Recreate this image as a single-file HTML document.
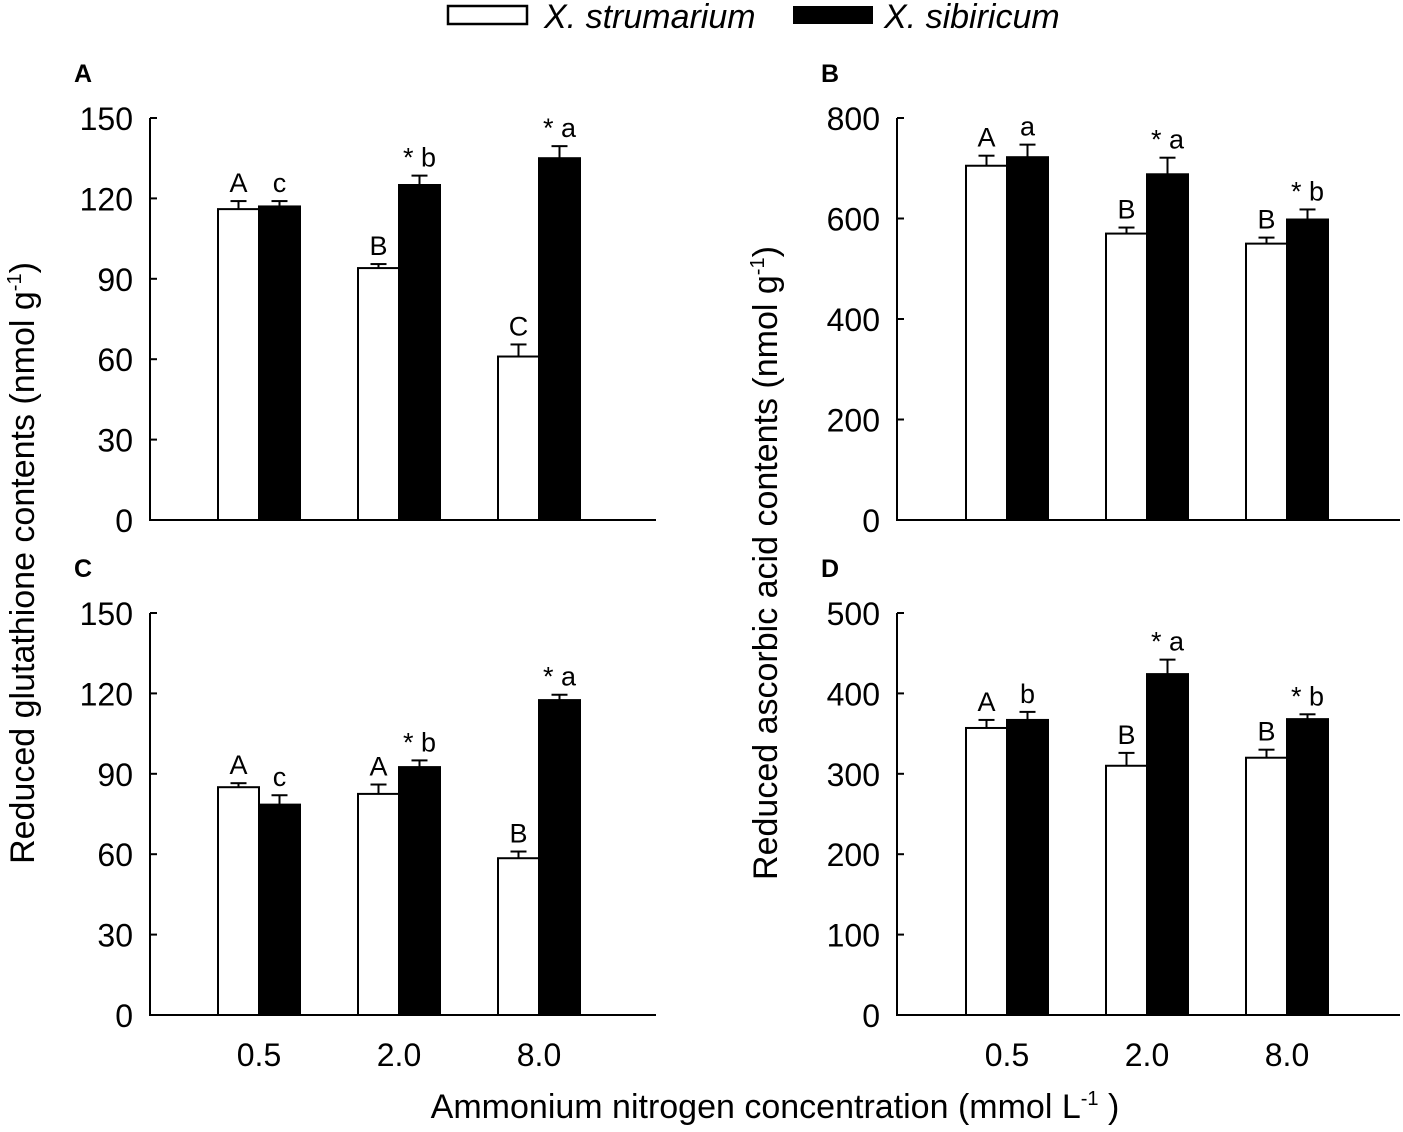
<!DOCTYPE html>
<html><head><meta charset="utf-8"><style>
html,body{margin:0;padding:0;background:#fff}
svg text{font-family:"Liberation Sans",Arial,sans-serif;fill:#000}
</style></head><body>
<svg id="chart" width="1403" height="1127" viewBox="0 0 1403 1127" xmlns="http://www.w3.org/2000/svg">
<g>
<rect x="448" y="6" width="79" height="18" fill="#fff" stroke="#000" stroke-width="2.5"/>
<text x="544" y="28" font-size="34" font-style="italic">X. strumarium</text>
<rect x="793" y="6" width="80" height="18" fill="#000"/>
<text x="884" y="28" font-size="34" font-style="italic">X. sibiricum</text>
</g>
<text x="34" y="563" font-size="34" transform="rotate(-90 34 563)" text-anchor="middle">Reduced glutathione contents (nmol g<tspan dy="-13" font-size="20">-1</tspan><tspan dy="13">)</tspan></text>
<text x="777" y="563" font-size="34" transform="rotate(-90 777 563)" text-anchor="middle">Reduced ascorbic acid contents (nmol g<tspan dy="-13" font-size="20">-1</tspan><tspan dy="13">)</tspan></text>
<text x="775" y="1118" font-size="34" text-anchor="middle">Ammonium nitrogen concentration (mmol L<tspan dy="-13" font-size="20">-1</tspan><tspan dy="13"> )</tspan></text>
<g id="plots"></g>
</svg>
<script>
const categories = ["0.5","2.0","8.0"];
const aWhite=[116,94,61], aWhiteErr=[3,1.5,4.5], aBlack=[117,125,135], aBlackErr=[2,3.5,4.5];
const bWhite=[705,570,550], bWhiteErr=[20,12,12], bBlack=[722,688,598], bBlackErr=[25,33,20];
const cWhite=[85,82.5,58.5], cWhiteErr=[1.5,3.5,2.5], cBlack=[78.5,92.5,117.5], cBlackErr=[3.5,2.5,2];
const dWhite=[357,310,320], dWhiteErr=[10,16,10], dBlack=[367,424,368], dBlackErr=[10,18,6];
const aLabW=["A","B","C"], aLabB=["c","* b","* a"];
const bLabW=["A","B","B"], bLabB=["a","* a","* b"];
const cLabW=["A","A","B"], cLabB=["c","* b","* a"];
const dLabW=["A","B","B"], dLabB=["b","* a","* b"];
const ticksGSH=[0,30,60,90,120,150], ticksB=[0,200,400,600,800], ticksD=[0,100,200,300,400,500];

const NS="http://www.w3.org/2000/svg";
const root=document.getElementById('plots');
function mk(tag,attrs,parent){const e=document.createElementNS(NS,tag);for(const k in attrs)e.setAttribute(k,attrs[k]);(parent||root).appendChild(e);return e;}

function panel(key,letter,x0,x1,yTop,yBot,max,ticks,white,wErr,black,bErr,labW,labB,centers,showX){
  const g=mk('g',{});
  
  
  const y=v=>yBot-(v/max)*(yBot-yTop);
  const t=mk('text',{x:x0-76,y:yTop-36,'font-size':25,'font-weight':'bold'},g);t.textContent=letter;
  
  
  const bw=41;
  for(let i=0;i<categories.length;i++){
    const c=centers[i];
    [[white,wErr,labW,'#fff',c-bw,'strumarium'],[black,bErr,labB,'#000',c,'sibiricum']].forEach(([vals,errs,labs,fill,bx,nm])=>{
      const top=y(vals[i]), et=y(vals[i]+errs[i]);
      const cx=bx+bw/2;
      const el=mk('line',{x1:cx,x2:cx,y1:top,y2:et,stroke:'#000','stroke-width':2},g);
      
      
      const cap=mk('line',{x1:cx-8,x2:cx+8,y1:et,y2:et,stroke:'#000','stroke-width':2},g);
      
      
      const r=mk('rect',{x:bx,y:top,width:bw,height:yBot-top,fill:fill,stroke:'#000','stroke-width':2},g);
      
      
      const lt=mk('text',{x:cx,y:et-9,'font-size':27,'text-anchor':'middle'},g);
      lt.textContent=labs[i];
      
      
    });
    if(showX){
      const xt=mk('text',{x:c,y:yBot+51,'font-size':32,'text-anchor':'middle'},g);
      xt.textContent=categories[i];
      
      
    }
  }
  const ax=mk('path',{d:`M${x0},${yTop} V${yBot} H${x1}`,fill:'none',stroke:'#000','stroke-width':2},g);
  
  
  ticks.forEach(v=>{
    const tk=mk('line',{x1:x0,x2:x0+7,y1:y(v),y2:y(v),stroke:'#000','stroke-width':2},g);
    
    
    const tl=mk('text',{x:x0-17,y:y(v)+12,'font-size':32,'text-anchor':'end'},g);
    tl.textContent=v;
    
    
  });
}
panel('a','A',150,656,118,520,150,ticksGSH,aWhite,aWhiteErr,aBlack,aBlackErr,aLabW,aLabB,[259,399,539],false);
panel('b','B',897,1400,118,520,800,ticksB,bWhite,bWhiteErr,bBlack,bBlackErr,bLabW,bLabB,[1007,1147,1287],false);
panel('c','C',150,656,613,1015,150,ticksGSH,cWhite,cWhiteErr,cBlack,cBlackErr,cLabW,cLabB,[259,399,539],true);
panel('d','D',897,1400,613,1015,500,ticksD,dWhite,dWhiteErr,dBlack,dBlackErr,dLabW,dLabB,[1007,1147,1287],true);
</script>
</body></html>
